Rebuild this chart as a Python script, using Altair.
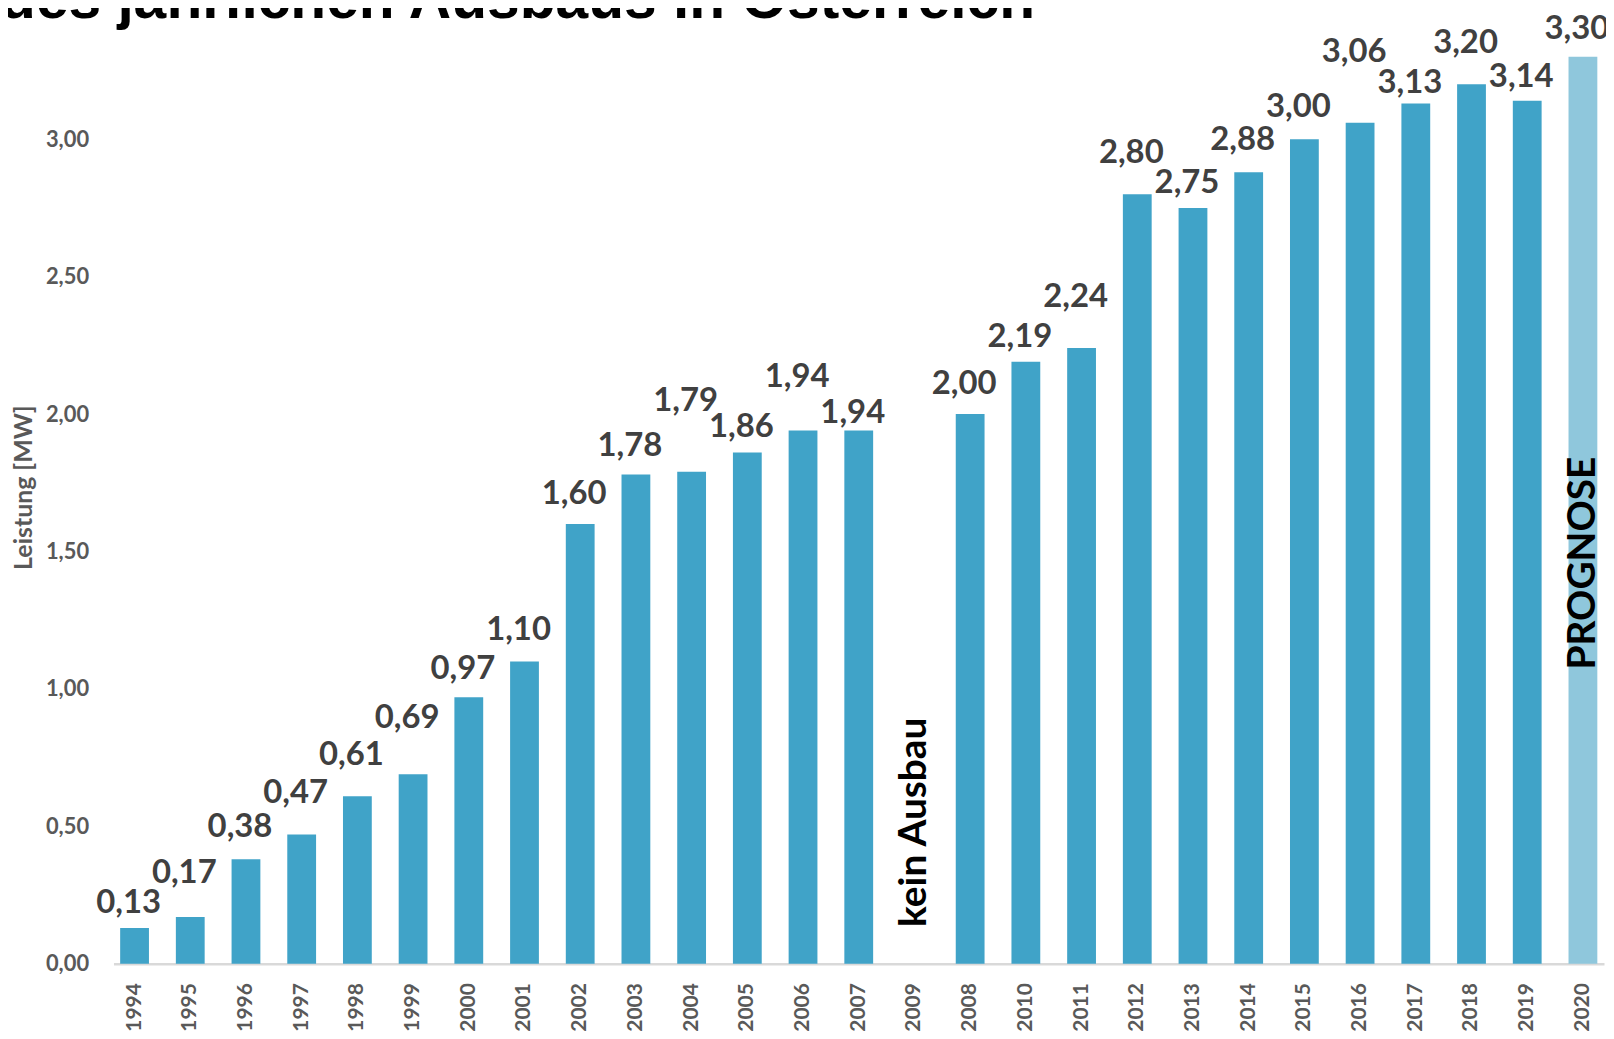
import altair as alt
import pandas as pd

# ---- data ----
title_text = ["des jährlichen Ausbaus in Österreich"]

years = ["1994", "1995", "1996", "1997", "1998", "1999", "2000", "2001", "2002",
         "2003", "2004", "2005", "2006", "2007", "2009", "2008", "2010", "2011",
         "2012", "2013", "2014", "2015", "2016", "2017", "2018", "2019", "2020"]
values = [0.13, 0.17, 0.38, 0.47, 0.61, 0.69, 0.97, 1.10, 1.60,
          1.78, 1.79, 1.86, 1.94, 1.94, None, 2.00, 2.19, 2.24,
          2.80, 2.75, 2.88, 3.00, 3.06, 3.13, 3.20, 3.14, 3.30]
# height (in MW) at which each value label sits in the reference
label_at = [0.220, 0.330, 0.498, 0.622, 0.760, 0.895, 1.071, 1.213, 1.708,
            1.884, 2.047, 1.951, 2.136, 2.005, None, 2.108, 2.281, 2.427,
            2.951, 2.839, 2.996, 3.116, 3.318, 3.206, 3.349, 3.225, 3.402]
kind = ["Ist"] * 26 + ["Prognose"]

note_year = ["2009", "2020"]
note_text = ["kein Ausbau", "PROGNOSE"]
note_at = [0.515, 1.458]

y_ticks = [0, 0.5, 1.0, 1.5, 2.0, 2.5, 3.0]

df = pd.DataFrame({"Jahr": years, "Wert": values, "LabelAt": label_at, "Art": kind})
notes = pd.DataFrame({"Jahr": note_year, "Text": note_text, "At": note_at})
heading = pd.DataFrame({"Titel": title_text})

FONT = "Lato"

x_enc = alt.X(
    "Jahr:N",
    sort=years,
    scale=alt.Scale(paddingInner=0.483, paddingOuter=0.12),
    axis=alt.Axis(
        title=None,
        labelAngle=270,
        labelFont=FONT,
        labelFontSize=21,
        labelFontWeight="bold",
        labelColor="#595959",
        ticks=False,
        tickSize=0,
        labelPadding=19,
        domainColor="#d9d9d9",
        domainWidth=2.5,
        grid=False,
    ),
)

y_scale = alt.Scale(domain=[0, 3.468], nice=False, zero=True)

bars = alt.Chart(df).mark_bar().encode(
    x=x_enc,
    y=alt.Y(
        "Wert:Q",
        scale=y_scale,
        axis=alt.Axis(
            values=y_ticks,
            labelExpr="replace(format(datum.value, '.2f'), '.', ',')",
            title="Leistung [MW]",
            titleFont=FONT,
            titleFontSize=25,
            titleFontWeight="bold",
            titleColor="#595959",
            titlePadding=9,
            labelFont=FONT,
            labelFontSize=22,
            labelFontWeight="bold",
            labelColor="#595959",
            labelPadding=25,
            domain=False,
            ticks=False,
            grid=False,
        ),
    ),
    color=alt.Color(
        "Art:N",
        scale=alt.Scale(domain=["Ist", "Prognose"], range=["#40a3c8", "#8fc7dc"]),
        legend=None,
    ),
)

labels = (
    alt.Chart(df)
    .transform_filter("datum.Wert != null")
    .transform_calculate(label="replace(format(datum.Wert, '.2f'), '.', ',')")
    .mark_text(font=FONT, fontSize=33, fontWeight="bold", color="#404040",
               baseline="middle", dx=-6)
    .encode(
        x=alt.X("Jahr:N", sort=years),
        y=alt.Y("LabelAt:Q", scale=y_scale),
        text="label:N",
    )
)

note_marks = alt.Chart(notes).mark_text(
    font=FONT, fontSize=39, fontWeight="bold", color="#000000", angle=270, baseline="middle"
).encode(
    x=alt.X("Jahr:N", sort=years),
    y=alt.Y("At:Q", scale=y_scale),
    text="Text:N",
)

# heading, partly cut off at the top edge as in the reference
heading_mark = alt.Chart(heading).mark_text(
    font="Liberation Sans", fontSize=59, fontWeight="bold", color="#000000",
    align="left", baseline="alphabetic",
).encode(
    x=alt.value(-114),
    y=alt.value(7),
    text="Titel:N",
)

chart = (
    alt.layer(bars, labels, note_marks, heading_mark)
    .properties(
        width=1498,
        height=958,
        autosize=alt.AutoSizeParams(type="none"),
        padding={"left": 106, "top": 0, "right": 2, "bottom": 72},
    )
    .configure_view(stroke=None)
)

chart.save("out.html", embed_options={"renderer": "svg", "actions": False})
